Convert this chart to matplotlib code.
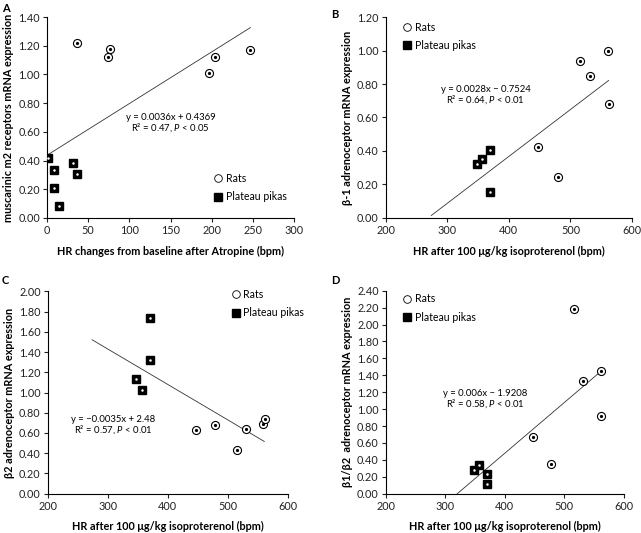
import matplotlib
matplotlib.use("Agg")
import matplotlib.pyplot as plt
from matplotlib import font_manager
from matplotlib.lines import Line2D
import numpy as np

plt.rcParams['font.family'] = ['Lato', 'DejaVu Sans']
plt.rcParams['mathtext.fontset'] = 'custom'
plt.rcParams['mathtext.rm'] = 'Lato'
# italic P: use Lato italic if installed, otherwise another italic sans
italic_fams = {f.name for f in font_manager.fontManager.ttflist if f.style == 'italic'}
for fam in ['Lato', 'Open Sans', 'Roboto', 'Noto Sans', 'Liberation Sans', 'DejaVu Sans']:
    if fam in italic_fams:
        plt.rcParams['mathtext.it'] = fam + ':italic'
        break

# Panel A: muscarinic m2 vs HR change after atropine
a_rats_x = [37, 76, 73.5, 196.5, 203.5, 247]
a_rats_y = [1.22, 1.175, 1.122, 1.011, 1.12, 1.168]
a_pikas_x = [1, 8, 9, 15, 32, 36]
a_pikas_y = [0.421, 0.331, 0.208, 0.081, 0.386, 0.308]
a_fit = (0.0036, 0.4369)
a_fit_x = [0, 247]

# Panel B: beta-1 vs HR after isoproterenol
b_rats_x = [516, 561, 531, 562, 448, 479]
b_rats_y = [0.937, 0.999, 0.848, 0.683, 0.424, 0.243]
b_pikas_x = [348, 357, 370, 370]
b_pikas_y = [0.320, 0.352, 0.404, 0.153]
b_fit = (0.0028, -0.7524)
b_fit_x = [274, 562]

# Panel C: beta-2
c_rats_x = [447, 479, 531, 516, 559, 562]
c_rats_y = [0.633, 0.679, 0.639, 0.428, 0.692, 0.738]
c_pikas_x = [370, 370, 348, 357]
c_pikas_y = [1.736, 1.318, 1.133, 1.028]
c_fit = (-0.0035, 2.48)
c_fit_x = [274, 561]

# Panel D: beta1/beta2 ratio
d_rats_x = [516, 561, 531, 561, 447, 478]
d_rats_y = [2.187, 1.446, 1.332, 0.922, 0.666, 0.355]
d_pikas_x = [348, 357, 370, 370]
d_pikas_y = [0.284, 0.343, 0.236, 0.118]
d_fit = (0.006, -1.9208)
d_fit_x = [320, 561]

W, H = 641, 533

panels = [
    dict(letter='A', letter_xy=(2, 8), rect=[0.0733, 0.5910, 0.3854, 0.3771],
         rx=a_rats_x, ry=a_rats_y, px=a_pikas_x, py=a_pikas_y,
         fit=a_fit, fit_x=a_fit_x, xlim=(0, 300), xticks=np.arange(0, 301, 50),
         ylim=(0, 1.4), yticks=np.arange(0, 1.41, 0.2),
         xlabel='HR changes from baseline after Atropine (bpm)',
         ylabel='muscarinic m2 receptors mRNA expression',
         eq='y = 0.0036x + 0.4369', r2=r'R² = 0.47, $\mathit{P}$ < 0.05',
         eq_xy=(150, 0.70), leg=(0.677, 0.151)),
    dict(letter='B', letter_xy=(331, 15), rect=[0.6017, 0.5910, 0.3843, 0.3771],
         rx=b_rats_x, ry=b_rats_y, px=b_pikas_x, py=b_pikas_y,
         fit=b_fit, fit_x=b_fit_x, xlim=(200, 600), xticks=np.arange(200, 601, 100),
         ylim=(0, 1.2), yticks=np.arange(0, 1.21, 0.2),
         xlabel='HR after 100 μg/kg isoproterenol (bpm)',
         ylabel='β-1 adrenoceptor mRNA expression',
         eq='y = 0.0028x \u2212 0.7524', r2=r'R² = 0.64, $\mathit{P}$ < 0.01',
         eq_xy=(362, 0.77), leg=(0.07, 0.903)),
    dict(letter='C', letter_xy=(2, 280), rect=[0.0744, 0.0737, 0.3744, 0.3798],
         rx=c_rats_x, ry=c_rats_y, px=c_pikas_x, py=c_pikas_y,
         fit=c_fit, fit_x=c_fit_x, xlim=(200, 600), xticks=np.arange(200, 601, 100),
         ylim=(0, 2.0), yticks=np.arange(0, 2.01, 0.2),
         xlabel='HR after 100 μg/kg isoproterenol (bpm)',
         ylabel='β2 adrenoceptor mRNA expression',
         eq='y = \u22120.0035x + 2.48', r2=r'R² = 0.57, $\mathit{P}$ < 0.01',
         eq_xy=(309, 0.735), leg=(0.767, 0.939)),
    dict(letter='D', letter_xy=(331, 280), rect=[0.6017, 0.0737, 0.3718, 0.3809],
         rx=d_rats_x, ry=d_rats_y, px=d_pikas_x, py=d_pikas_y,
         fit=d_fit, fit_x=d_fit_x, xlim=(200, 600), xticks=np.arange(200, 601, 100),
         ylim=(0, 2.4), yticks=np.arange(0, 2.41, 0.2),
         xlabel='HR after 100 μg/kg isoproterenol (bpm)',
         ylabel='β1/β2  adrenoceptor mRNA expression',
         eq='y = 0.006x \u2212 1.9208', r2=r'R² = 0.58, $\mathit{P}$ < 0.01',
         eq_xy=(367, 1.19), leg=(0.0725, 0.915)),
]

fig = plt.figure(figsize=(W / 100, H / 100), dpi=100)

for p in panels:
    ax = fig.add_axes(p['rect'])
    fx = np.array(p['fit_x'], dtype=float)
    ax.plot(fx, p['fit'][0] * fx + p['fit'][1], color='#333333', lw=0.6, zorder=1)

    # rats: open circle with central dot
    ax.plot(p['rx'], p['ry'], 'o', ms=5.8, mfc='white', mec='black', mew=0.8,
            ls='none', zorder=3)
    ax.plot(p['rx'], p['ry'], 'o', ms=1.3, color='black', ls='none', zorder=4)
    # pikas: filled square with small white dot
    ax.plot(p['px'], p['py'], 's', ms=6, mfc='black', mec='black', ls='none', zorder=3)
    ax.plot(p['px'], p['py'], 'o', ms=0.8, color='white', ls='none', zorder=4)

    ax.set_xlim(*p['xlim'])
    ax.set_ylim(*p['ylim'])
    ax.set_xticks(p['xticks'])
    ax.set_yticks(p['yticks'])
    ax.set_yticklabels([f'{v:.2f}' for v in p['yticks']])
    ax.spines['top'].set_visible(False)
    ax.spines['right'].set_visible(False)
    for s in ('left', 'bottom'):
        ax.spines[s].set_linewidth(0.8)
    ax.tick_params(labelsize=7.8, length=3, width=0.8, pad=2, colors='#222222')
    ax.set_xlabel(p['xlabel'], fontsize=7.8, fontweight='bold', labelpad=7)
    ax.set_ylabel(p['ylabel'], fontsize=7.8, fontweight='bold', labelpad=3)

    ex, ey = p['eq_xy']
    ax.text(ex, ey, p['eq'], fontsize=6.8, ha='center', va='center')
    ax.text(ex, ey - (p['ylim'][1] * 0.052), p['r2'], fontsize=6.8, ha='center', va='center')

    handles = [
        Line2D([], [], marker='o', ls='none', ms=5.5, mfc='white', mec='black', mew=0.6),
        Line2D([], [], marker='s', ls='none', ms=5.5, mfc='black', mec='black'),
    ]
    ax.legend(handles, ['Rats', 'Plateau pikas'], loc='center left',
              bbox_to_anchor=p['leg'], frameon=False, fontsize=7.6,
              handlelength=0.8, handletextpad=0.3, labelspacing=0.7,
              borderpad=0, borderaxespad=0)

    lx, ly = p['letter_xy']
    fig.text(lx / W, 1 - ly / H, p['letter'], fontsize=8, fontweight='bold',
             ha='left', va='center')

fig.savefig('out.png', dpi=100)
